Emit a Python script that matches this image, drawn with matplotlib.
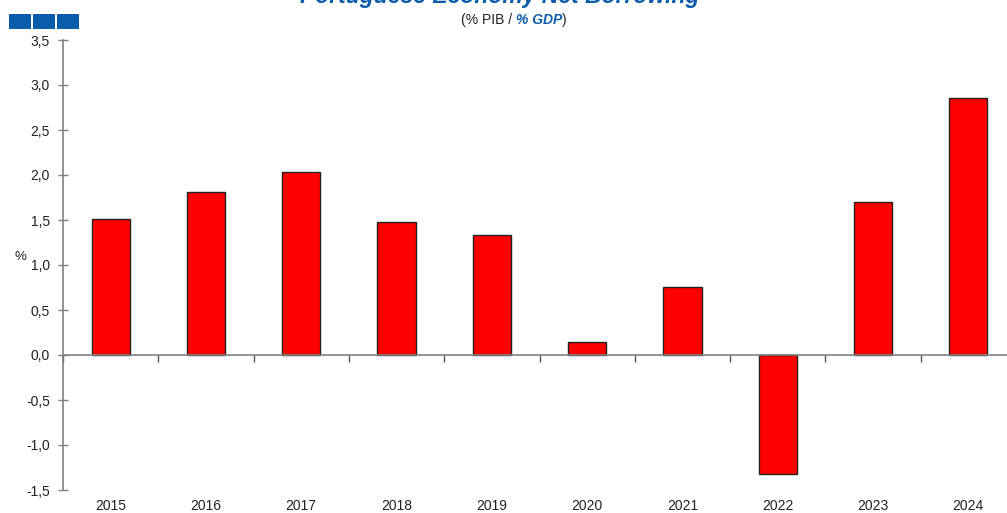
import numpy as np
import matplotlib.pyplot as plt
from matplotlib.patches import Rectangle
from matplotlib.ticker import FuncFormatter

plt.rcParams['font.family'] = ['Liberation Sans', 'DejaVu Sans']

years = ['2015', '2016', '2017', '2018', '2019', '2020', '2021', '2022', '2023', '2024']
net_borrowing = [1.51, 1.81, 2.03, 1.48, 1.33, 0.15, 0.76, -1.32, 1.70, 2.86]
yticks = [-1.5, -1.0, -0.5, 0.0, 0.5, 1.0, 1.5, 2.0, 2.5, 3.0, 3.5]

W, H = 1007, 513
fig = plt.figure(figsize=(W / 100, H / 100), dpi=100)
ax = fig.add_axes([63 / W, 23 / H, 953 / W, 450 / H])

x = np.arange(len(years))
ax.bar(x, net_borrowing, width=0.4, color='#ff0000', edgecolor='#222222',
       linewidth=1.0, zorder=3)

ax.set_xlim(-0.5, len(years) - 0.5)
ax.set_ylim(-1.5, 3.5)
ax.set_yticks(yticks)
ax.yaxis.set_major_formatter(FuncFormatter(lambda v, p: ('%.1f' % v).replace('.', ',')))
ax.tick_params(axis='y', direction='inout', length=7, width=1, color='#808080',
               labelsize=10, labelcolor='#222222', pad=6)

ax.set_xticks(np.arange(len(years) + 1) - 0.5)
ax.set_xticklabels([])
ax.tick_params(axis='x', direction='out', length=5, width=1, color='#555555')
for i, yr in enumerate(years):
    ax.text(i, -0.036, yr, transform=ax.get_xaxis_transform(), ha='center',
            va='center', fontsize=10, color='#222222')

for s in ['top', 'right']:
    ax.spines[s].set_visible(False)
ax.spines['bottom'].set_position(('data', 0))
ax.spines['left'].set_color('#808080')
ax.spines['bottom'].set_color('#808080')
ax.spines['left'].set_linewidth(1.2)
ax.spines['bottom'].set_linewidth(1.2)
ax.spines['bottom'].set_zorder(4)

fig.text(20 / W, 1 - 257 / H, '%', fontsize=9.5, color='#222222', ha='center', va='center')

blue = '#0b5cab'
fig.text(500 / W, 1 + 3 / H, 'Portuguese Economy Net Borrowing', fontsize=16.5,
         fontweight='bold', fontstyle='italic', color=blue, ha='center', va='center')

# subtitle built from three pieces placed side by side
fig.canvas.draw()
r = fig.canvas.get_renderer()
ys = 1 - 20 / H
p1 = fig.text(461 / W, ys, '(% PIB / ', fontsize=10, color='#222222', ha='left', va='center')
x1 = p1.get_window_extent(r).x1
p2 = fig.text(x1 / W, ys, '% GDP', fontsize=10, color=blue, fontweight='bold',
              fontstyle='italic', ha='left', va='center')
x2 = p2.get_window_extent(r).x1
fig.text(x2 / W, ys, ')', fontsize=10, color='#222222', ha='left', va='center')

for x0 in [9, 33, 57]:
    fig.patches.append(Rectangle((x0 / W, 1 - 29 / H), 22 / W, 15 / H,
                                 transform=fig.transFigure, facecolor=blue, lw=0))

fig.savefig('out.png', dpi=100)
